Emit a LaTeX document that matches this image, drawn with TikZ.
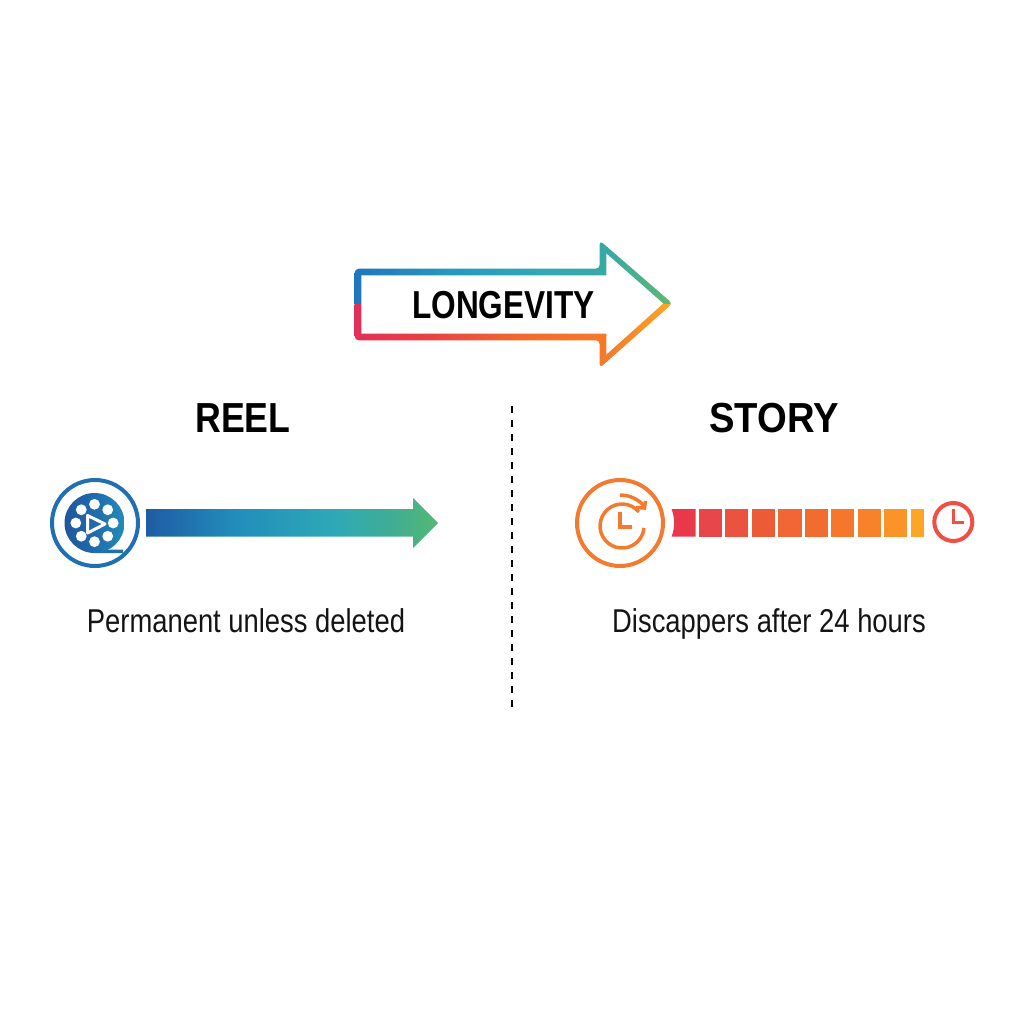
\documentclass[tikz,border=0pt]{standalone}
\usepackage{fontspec}
\setmainfont{Liberation Sans}
\newfontfamily\narrowbold[FakeStretch=0.81]{Liberation Sans Bold}
\newfontfamily\titlebold[FakeStretch=0.85]{Liberation Sans Bold}
\newfontfamily\storybold[FakeStretch=0.91]{Liberation Sans Bold}
\newfontfamily\narrowreg[FakeStretch=0.83]{Liberation Sans}
\usetikzlibrary{positioning,calc}
\definecolor{reelblue}{HTML}{1F6FB2}
\definecolor{storyorange}{HTML}{F37A2E}
\definecolor{storyred}{HTML}{EF4F45}
\pgfdeclarehorizontalshading{upperhalf}{100bp}{rgb(0bp)=(0.13,0.46,0.74); rgb(25bp)=(0.13,0.46,0.74); rgb(40bp)=(0.15,0.60,0.74); rgb(55bp)=(0.20,0.66,0.71); rgb(65bp)=(0.22,0.66,0.64); rgb(75bp)=(0.38,0.73,0.44); rgb(100bp)=(0.38,0.73,0.44)}
\pgfdeclarehorizontalshading{lowerhalf}{100bp}{rgb(0bp)=(0.88,0.19,0.35); rgb(25bp)=(0.88,0.19,0.35); rgb(37bp)=(0.91,0.26,0.26); rgb(52bp)=(0.95,0.42,0.18); rgb(65bp)=(0.96,0.48,0.16); rgb(75bp)=(0.99,0.66,0.16); rgb(100bp)=(0.99,0.66,0.16)}
\pgfdeclarehorizontalshading{reelshaft}{100bp}{rgb(0bp)=(0.12,0.36,0.64); rgb(25bp)=(0.12,0.36,0.64); rgb(40bp)=(0.13,0.55,0.73); rgb(57bp)=(0.18,0.66,0.72); rgb(67bp)=(0.25,0.68,0.58); rgb(75bp)=(0.33,0.72,0.45); rgb(100bp)=(0.33,0.72,0.45)}
\pgfdeclarehorizontalshading{reeldisc}{100bp}{rgb(0bp)=(0.12,0.34,0.62); rgb(25bp)=(0.12,0.34,0.62); rgb(50bp)=(0.12,0.42,0.68); rgb(75bp)=(0.14,0.55,0.72); rgb(100bp)=(0.14,0.55,0.72)}
\tikzset{titletext/.style={font=\titlebold\fontsize{42}{42}\selectfont, inner sep=0pt, anchor=base}}
\tikzset{longtext/.style={font=\narrowbold\fontsize{39}{39}\selectfont, inner sep=0pt, anchor=base}}
\tikzset{desctext/.style={font=\narrowreg\fontsize{33}{33}\selectfont, inner sep=0pt, anchor=base, text=black!92}}
\tikzset{ringline/.style={draw, line width=4pt}}
\tikzset{handline/.style={draw, line width=3.5pt}}
\begin{document}
\begin{tikzpicture}[x=1pt,y=-1pt]
	\useasboundingbox (0,0) rectangle (1024,1024);
	% longevity arrow
	\begin{scope}
		\clip[rounded corners=4pt] (354.7,268.7) -- (599.7,268.7) -- (599.7,240.5) -- (672.5,303.5) -- (599.7,368) -- (599.7,340.3) -- (354.7,340.3) -- cycle;
		\shade[shading=upperhalf] (354.7,230) rectangle (672.9,304);
		\shade[shading=lowerhalf] (354.7,304) rectangle (672.9,375);
	\end{scope}
	\fill[white] (361.3,275.3) -- (606.3,275.3) -- (606.3,253.5) -- (663.1,303.5) -- (606.3,354.5) -- (606.3,333.7) -- (361.3,333.7) -- cycle;
	\node[longtext] (longevity) at (503.5,318) {LONGEVITY};
	\node[titletext] (reel) at (243,432) {REEL};
	\node[titletext, font=\storybold\fontsize{42}{42}\selectfont] (story) at (774,432) {STORY};
	\draw[line width=2pt, dash pattern=on 7pt off 7pt] (511.5,406) -- (511.5,708);
	% reel side
	\draw[ringline, reelblue] (95,523) circle (43);
	\shade[shading=reeldisc] (94.5,523) circle (30);
	\fill[reelblue] (94.5,553) -- (123,553) -- (123,549.5) -- (110,549.5) -- cycle;
	\foreach \a in {0,45,...,315}
		\fill[white] ($(94.5,523)+(\a:18.7)$) circle (5.4);
	\draw[white, line width=3pt, line join=round] (87.5,515.5) -- (87.5,533) -- (105,524) -- cycle;
	\shade[shading=reelshaft] (146,509) -- (413,509) -- (413,498) -- (438,523) -- (413,548) -- (413,536.7) -- (146,536.7) -- cycle;
	\node[desctext] (reeltext) at (246,632) {Permanent unless deleted};
	% story side
	\draw[ringline, storyorange] (620,523) circle (43);
	\draw[storyorange, line width=3.5pt] (638.9,511.9) arc (-40:-355:22);
	\draw[storyorange, line width=3.5pt] (620,495) arc (-90:-40:32);
	\draw[storyorange, line width=3.5pt] (636,507.5) -- (644.5,508) -- (645.5,501);
	\draw[handline, storyorange] (620,511.5) -- (620,527) -- (632,527);
	\definecolor{segcol}{HTML}{E8384A}
	\fill[segcol] (671.5,509) -- (695.7,509) -- (695.7,536.7) -- (671.5,536.7) .. controls (675,528) and (675,518) .. (671.5,509) -- cycle;
	\foreach \xa/\xb/\c in {698.7/722/E8474A,725.3/748.3/EB5340,751.7/775/ED5A36,778.3/801.7/F06635,805/828/F26C30,831/854.3/F5772B,857.7/881/F7822A,884.3/907.3/FA9428,910.7/923.7/FCA526}{
		\definecolor{segcol}{HTML}{\c}
		\fill[segcol] (\xa,509) rectangle (\xb,536.7);
	}
	\node[desctext] (storytext) at (769,632) {Discappers after 24 hours};
	\draw[ringline, storyred] (953.3,522) circle (19);
	\draw[handline, line width=3pt, storyred] (953,509) -- (953,522) -- (964,522);
\end{tikzpicture}
\end{document}
